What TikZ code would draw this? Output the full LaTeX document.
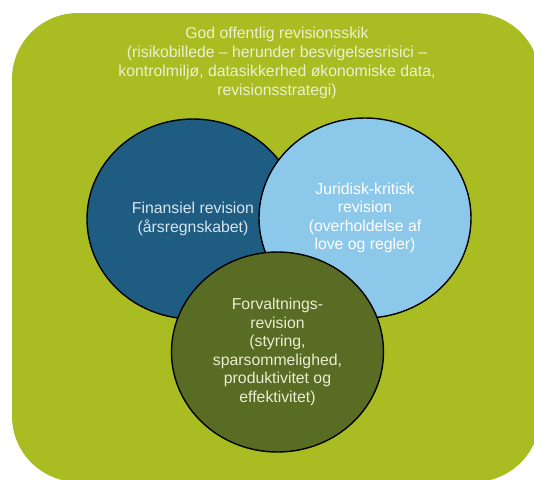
\documentclass[tikz,border=0pt]{standalone}
\usepackage{fontspec}
\setmainfont{Liberation Sans}
\usetikzlibrary{shapes.geometric}
\definecolor{bggreen}{RGB}{169,189,34}
\definecolor{darkblue}{RGB}{30,92,130}
\definecolor{lightblue}{RGB}{140,200,234}
\definecolor{olive}{RGB}{88,108,36}
\definecolor{toptext}{RGB}{236,240,205}
\definecolor{lefttext}{RGB}{215,228,236}
\definecolor{bottext}{RGB}{236,236,210}
\tikzset{
  venn/.style={ellipse, draw=black, line width=1.4pt, minimum width=212pt, minimum height=200pt, inner sep=0pt, align=center, font=\fontsize{15.8}{18.5}\selectfont},
  lbl/.style={align=center, font=\fontsize{15.8}{19}\selectfont}
}
\begin{document}
\begin{tikzpicture}[x=1pt,y=-1pt]
\useasboundingbox (0,0) rectangle (534,479);
\fill[bggreen, rounded corners=66pt] (12,13) rectangle (540,482);
\node[lbl, text=toptext] (top) at (277,63) {God offentlig revisionsskik\\(risikobillede -- herunder besvigelsesrisici --\\kontrolmiljø, datasikkerhed økonomiske data,\\revisionsstrategi)};
\node[venn, fill=darkblue, text=lefttext] (fin) at (193,219) {Finansiel revision\\(årsregnskabet)};
\node[venn, fill=lightblue, text=white] (jur) at (365,218) {Juridisk-kritisk\\revision\\(overholdelse af\\love og regler)};
\node[venn, fill=olive, text=bottext] (forv) at (277.5,352) {Forvaltnings-\\revision\\(styring,\\sparsommelighed,\\produktivitet og\\effektivitet)};
\end{tikzpicture}
\end{document}
